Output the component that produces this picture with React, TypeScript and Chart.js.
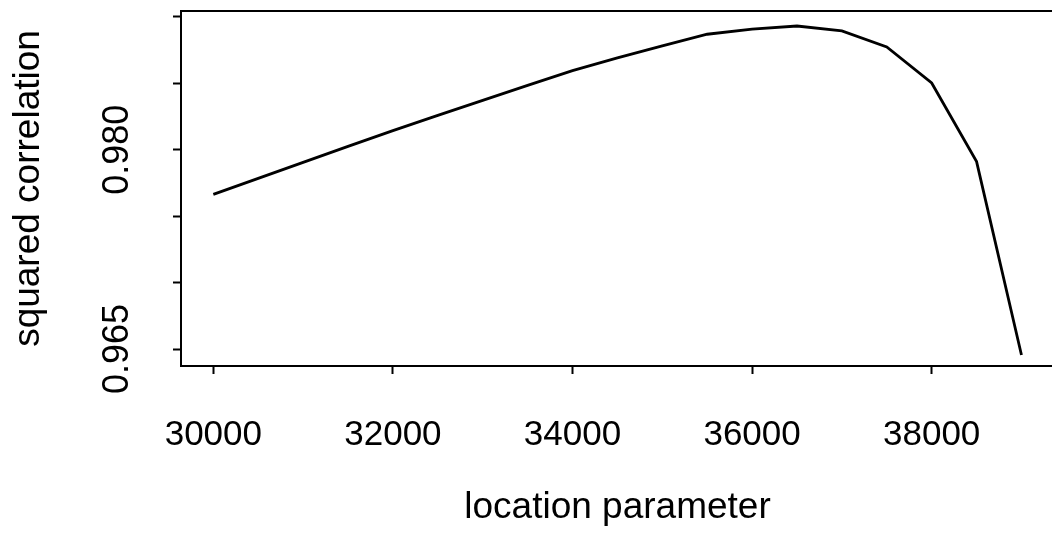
import React, { useEffect, useRef } from 'react';
import { Chart, registerables } from 'chart.js';

Chart.register(...registerables);

// Data
const locationParameter = [
  30000, 30500, 31000, 31500, 32000, 32500, 33000, 33500, 34000, 34500,
  35000, 35500, 36000, 36500, 37000, 37500, 38000, 38500, 39000,
];
const squaredCorrelation = [
  0.97664, 0.97785, 0.97905, 0.98026, 0.98144, 0.98259, 0.98372, 0.98485, 0.98596, 0.98692,
  0.98782, 0.9887, 0.98909, 0.98932, 0.98895, 0.98774, 0.98503, 0.97911, 0.96455,
];
const xTickValues = [30000, 32000, 34000, 36000, 38000];
const yTickValues = [0.965, 0.97, 0.975, 0.98, 0.985, 0.99];
const yLabelValues = [0.965, 0.98];
const xTitle = 'location parameter';
const yTitle = 'squared correlation';

const FONT = '"Liberation Sans", Arial, Helvetica, sans-serif';

export default function App() {
  const canvasRef = useRef<HTMLCanvasElement | null>(null);

  useEffect(() => {
    document.body.style.margin = '0';
    const canvas = canvasRef.current;
    if (!canvas) return;

    const textPlugin = {
      id: 'rText',
      afterDraw(chart: any) {
        const { ctx, chartArea, scales } = chart;
        const xs = scales.x;
        const ys = scales.y;
        ctx.save();
        // top border line of the plot box
        ctx.strokeStyle = '#000';
        ctx.lineWidth = 2;
        ctx.beginPath();
        ctx.moveTo(chartArea.left, chartArea.top);
        ctx.lineTo(chartArea.right, chartArea.top);
        ctx.stroke();

        ctx.fillStyle = '#000';
        // x tick labels
        ctx.font = `35px ${FONT}`;
        ctx.textAlign = 'center';
        ctx.textBaseline = 'alphabetic';
        xTickValues.forEach((v) => {
          ctx.fillText(String(v), xs.getPixelForValue(v), 445);
        });
        // y tick labels (rotated)
        ctx.font = `36px ${FONT}`;
        yLabelValues.forEach((v) => {
          ctx.save();
          ctx.translate(128, ys.getPixelForValue(v));
          ctx.rotate(-Math.PI / 2);
          ctx.fillText(v.toFixed(3), 0, 0);
          ctx.restore();
        });
        // axis titles
        ctx.font = `37px ${FONT}`;
        ctx.fillText(xTitle, (chartArea.left + 1054) / 2, 518);
        ctx.save();
        ctx.translate(39, (chartArea.top + chartArea.bottom) / 2);
        ctx.rotate(-Math.PI / 2);
        ctx.fillText(yTitle, 0, 0);
        ctx.restore();
        ctx.restore();
      },
    };

    const chart = new Chart(canvas, {
      type: 'line',
      data: {
        datasets: [
          {
            data: locationParameter.map((x, i) => ({ x, y: squaredCorrelation[i] })),
            borderColor: '#000',
            borderWidth: 2.8,
            pointRadius: 0,
            tension: 0,
            fill: false,
          },
        ],
      },
      options: {
        responsive: false,
        animation: false,
        layout: { padding: { top: 11, right: 0, bottom: 0, left: 0 } },
        plugins: { legend: { display: false }, tooltip: { enabled: false } },
        scales: {
          x: {
            type: 'linear',
            min: 29640,
            max: 39340,
            afterBuildTicks: (s: any) => {
              s.ticks = xTickValues.map((v) => ({ value: v }));
            },
            afterFit: (s: any) => {
              s.height = 548 - 366;
            },
            ticks: { display: false },
            grid: {
              display: true,
              drawOnChartArea: false,
              drawTicks: true,
              tickLength: 8,
              tickWidth: 2,
              tickColor: '#000',
              color: '#000',
            },
            border: { display: true, color: '#000', width: 2 },
          },
          y: {
            type: 'linear',
            min: 0.96372,
            max: 0.99045,
            afterBuildTicks: (s: any) => {
              s.ticks = yTickValues.map((v) => ({ value: v }));
            },
            afterFit: (s: any) => {
              s.width = 181;
            },
            ticks: { display: false },
            grid: {
              display: true,
              drawOnChartArea: false,
              drawTicks: true,
              tickLength: 8,
              tickWidth: 2,
              tickColor: '#000',
              color: '#000',
            },
            border: { display: true, color: '#000', width: 2 },
          },
        },
      },
      plugins: [textPlugin],
    });

    return () => chart.destroy();
  }, []);

  return (
    <div style={{ width: 1052, height: 548, overflow: 'hidden', background: '#fff' }}>
      <canvas ref={canvasRef} width={1052} height={548} style={{ display: 'block' }} />
    </div>
  );
}
